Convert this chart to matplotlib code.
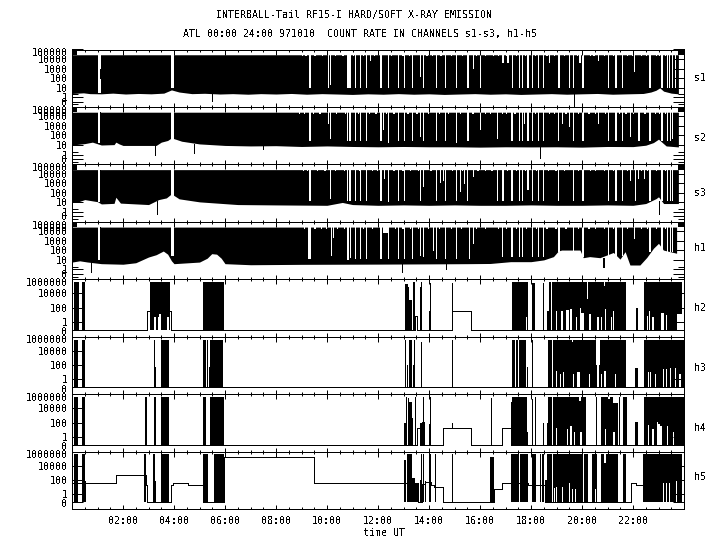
import numpy as np
import matplotlib
matplotlib.use("Agg")
import matplotlib.pyplot as plt
from matplotlib.transforms import ScaledTranslation

# ---------- text ----------
title_1 = "INTERBALL-Tail RF15-I HARD/SOFT X-RAY EMISSION"
title_2 = "ATL 00:00 24:00 971010  COUNT RATE IN CHANNELS s1-s3, h1-h5"
x_label = "time UT"
hour_ticks = [2, 4, 6, 8, 10, 12, 14, 16, 18, 20, 22]
hour_labels = ["02:00", "04:00", "06:00", "08:00", "10:00", "12:00", "14:00", "16:00", "18:00", "20:00", "22:00"]
s_ticks = [0, 1, 10, 100, 1000, 10000, 100000]
s_labels = ["0", "1", "10", "100", "1000", "10000", "100000"]
h_ticks = [0, 1, 100, 10000, 1000000]
h_labels = ["0", "1", "100", "10000", "1000000"]

# ---------- continuous channels: lower envelope of the black band ----------
s1_env_t = [0, .45, .7, 1.15, 1.6, 2.1, 2.6, 3.1, 3.6, 3.9, 4.2, 4.7, 5.2, 5.8, 6.3, 6.9, 7.4, 8, 8.6, 9.2, 9.8, 10.4, 11, 11.6, 12.2, 12.8, 13.4, 14, 14.6, 15.2, 15.8, 16.4, 17, 17.6, 18.2, 18.8, 19.4, 20, 20.6, 21.2, 21.8, 22.4, 22.7, 22.9, 23.05, 23.2, 23.5, 23.78]
s1_env_v = [2.4, 2.8, 2.3, 2.2, 2.6, 2.1, 2.4, 2.2, 2.6, 5.7, 3.4, 2.3, 2.5, 2.1, 2.3, 2.0, 2.3, 2.1, 2.4, 2.0, 2.3, 2.1, 1.9, 2.2, 2.0, 2.3, 2.0, 2.2, 1.9, 2.1, 2.3, 2.0, 2.2, 1.9, 2.1, 2.3, 2.0, 2.2, 2.4, 2.0, 2.2, 2.4, 3.4, 5.2, 9.3, 4.2, 2.6, 2.2]
s2_env_t = [0, .5, .8, 1.15, 1.65, 1.72, 1.85, 2, 3.3, 3.5, 3.75, 3.9, 4.1, 4.3, 5, 6, 7, 8, 9, 10, 11, 12, 13, 14, 15, 16, 17, 18, 19, 20, 21, 22, 22.5, 22.8, 23, 23.15, 23.3, 23.78]
s2_env_v = [10, 14, 20, 10, 11, 20, 13, 9, 9, 20, 30, 56, 38, 25, 13, 9, 8, 8.5, 7, 8, 7, 6.5, 7, 6.5, 6.5, 6, 6.5, 6.3, 6.5, 6, 7, 6.8, 9.5, 18, 41, 18, 8, 6.3]
s3_env_t = [0, .2, .5, 1, 1.15, 1.65, 1.72, 1.9, 3, 3.4, 3.7, 3.9, 4.2, 5, 6.5, 8, 10, 10.6, 11, 12, 13, 14, 15, 16, 17, 18, 19, 20, 21, 22, 22.5, 22.9, 23, 23.2, 23.78]
s3_env_v = [10.5, 10.5, 20, 12, 7, 8, 35, 8.5, 6, 20, 30, 80, 24, 11.5, 6, 5.5, 5, 10, 6, 5, 5.5, 5, 5.5, 5, 5, 5.5, 5, 5, 5.5, 5, 7.7, 25, 39, 7.7, 7.7]
h1_env_t = [0, .3, .6, 1.15, 2, 2.5, 3, 3.3, 3.58, 3.75, 3.9, 4, 5, 5.3, 5.48, 5.67, 5.85, 6, 7, 9, 12, 14, 15.5, 16.4, 17.2, 18, 18.5, 18.88, 19.07, 19.2, 19.92, 20.05, 20.3, 20.7, 21.23, 21.49, 21.69, 21.88, 22.27, 22.54, 22.8, 23, 23.19, 23.71]
h1_env_v = [5.9, 8, 6, 4, 3.5, 5, 20, 35, 85, 40, 8, 4, 5.9, 15, 45, 40, 15, 4, 3.1, 3.4, 3.6, 3.8, 4, 4.2, 6.5, 6.5, 10, 22, 85, 108, 108, 17, 22, 17, 60, 12, 73, 2.9, 2.9, 18, 165, 550, 108, 50]

# white stripes cut from the band: start hour, end hour, value they reach down to
s1_gap_start = [1.03, 3.90, 9.30, 10.05, 10.12, 10.80, 10.88, 11.10, 11.28, 11.52, 11.69, 12.08, 12.38, 12.78, 13.02, 13.33, 13.65, 13.75, 14.27, 14.61, 15.06, 15.48, 15.71, 16.00, 16.88, 17.07, 17.24, 17.53, 17.66, 17.86, 18.04, 18.28, 18.46, 18.71, 19.07, 19.50, 19.66, 19.90, 20.00, 20.63, 21.02, 21.31, 21.56, 22.04, 22.64, 23.11, 23.32, 23.42, 23.54, 23.66]
s1_gap_end = [1.14, 3.99, 9.39, 10.09, 10.16, 10.85, 10.93, 11.15, 11.35, 11.57, 11.73, 12.16, 12.42, 12.82, 13.07, 13.37, 13.69, 13.80, 14.31, 14.65, 15.11, 15.56, 15.75, 16.04, 16.90, 17.12, 17.29, 17.58, 17.70, 17.90, 18.09, 18.31, 18.51, 18.75, 19.12, 19.54, 19.70, 19.93, 20.08, 20.67, 21.07, 21.36, 21.60, 22.08, 22.72, 23.16, 23.36, 23.46, 23.58, 23.70]
s1_gap_floor = [2.5, 8, 9.3, 9.3, 17, 9.3, 9.3, 9.3, 9.3, 9.3, 6000, 9.3, 9.3, 9.3, 9.3, 9.3, 135, 9.3, 9.3, 9.3, 9.3, 9.3, 1000, 9.3, 3400, 3400, 9.3, 9.3, 9.3, 9.3, 9.3, 9.3, 9.3, 3400, 9.3, 9.3, 9.3, 3400, 9.3, 6000, 9.3, 9.3, 9.3, 450, 9.3, 9.3, 9.3, 9.3, 9.3, 9.3]

s2_gap_start = [1.03, 3.90, 9.30, 10.05, 10.13, 10.78, 10.88, 11.10, 11.28, 11.53, 12.08, 12.20, 12.39, 12.78, 13.02, 13.33, 13.66, 13.77, 14.27, 14.61, 15.06, 15.48, 16.00, 16.65, 17.20, 17.53, 17.66, 17.74, 17.86, 18.04, 18.28, 18.46, 19.07, 19.20, 19.50, 19.66, 20.00, 20.63, 21.02, 21.31, 21.56, 21.87, 22.21, 22.64, 23.11, 23.32, 23.45, 23.54]
s2_gap_end = [1.14, 3.99, 9.37, 10.09, 10.16, 10.82, 10.93, 11.15, 11.33, 11.57, 12.16, 12.24, 12.43, 12.82, 13.06, 13.37, 13.69, 13.80, 14.31, 14.65, 15.11, 15.56, 16.04, 16.68, 17.29, 17.58, 17.70, 17.78, 17.90, 18.08, 18.31, 18.50, 19.11, 19.24, 19.54, 19.70, 20.08, 20.67, 21.07, 21.36, 21.60, 21.91, 22.26, 22.72, 23.16, 23.36, 23.49, 23.58]
s2_gap_floor = [15, 30, 25, 1770, 40, 25, 25, 25, 25, 25, 25, 350, 17, 25, 25, 25, 70, 25, 25, 25, 17, 25, 350, 40, 25, 25, 25, 1770, 25, 25, 25, 25, 25, 1770, 800, 25, 25, 1770, 25, 25, 25, 70, 25, 25, 25, 25, 25, 40]

s3_gap_start = [1.03, 3.90, 9.30, 10.12, 10.80, 10.88, 11.10, 11.28, 11.52, 12.08, 12.22, 12.39, 12.78, 13.02, 13.66, 13.77, 14.27, 14.43, 14.54, 14.61, 15.06, 15.22, 15.37, 15.48, 15.71, 16.68, 16.88, 17.22, 17.53, 17.66, 17.86, 18.04, 18.28, 18.46, 19.07, 19.66, 20.00, 21.02, 21.31, 21.56, 21.88, 22.08, 22.21, 22.43, 22.64, 23.11, 23.32, 23.45, 23.54]
s3_gap_end = [1.14, 3.99, 9.37, 10.16, 10.83, 10.93, 11.15, 11.33, 11.57, 12.16, 12.27, 12.43, 12.82, 13.06, 13.69, 13.80, 14.31, 14.47, 14.58, 14.65, 15.11, 15.26, 15.40, 15.54, 15.75, 16.71, 16.90, 17.29, 17.57, 17.70, 17.90, 18.09, 18.31, 18.49, 19.11, 19.70, 20.08, 21.07, 21.36, 21.60, 21.92, 22.12, 22.25, 22.47, 22.72, 23.16, 23.36, 23.49, 23.58]
s3_gap_floor = [10, 30, 16, 25, 16, 16, 16, 16, 16, 16, 2600, 12, 16, 16, 16, 410, 16, 1200, 2000, 16, 16, 120, 930, 16, 4700, 16, 16, 16, 16, 16, 185, 16, 16, 16, 16, 16, 16, 16, 16, 16, 2000, 16, 3100, 3100, 16, 16, 16, 16, 16]

h1_gap_start = [1.03, 3.90, 9.26, 10.16, 10.25, 10.80, 10.90, 11.10, 11.28, 11.52, 12.08, 12.18, 12.39, 12.78, 13.02, 13.33, 13.66, 13.77, 14.16, 14.27, 14.61, 15.06, 15.56, 15.71, 16.86, 17.22, 17.53, 17.66, 18.04, 18.28, 18.46, 19.07, 19.66, 20.00, 21.02, 21.31, 21.56, 22.04, 22.64, 23.11, 23.32, 23.45, 23.54]
h1_gap_end = [1.14, 3.99, 9.36, 10.18, 10.27, 10.85, 10.94, 11.15, 11.33, 11.57, 12.14, 12.40, 12.43, 12.82, 13.06, 13.37, 13.69, 13.80, 14.20, 14.31, 14.65, 15.11, 15.61, 15.75, 16.90, 17.29, 17.58, 17.70, 18.09, 18.31, 18.51, 19.12, 19.70, 20.08, 21.07, 21.36, 21.60, 22.08, 22.72, 23.16, 23.36, 23.49, 23.58]
h1_gap_floor = [10, 25, 12, 28, 1900, 10, 15, 12, 12, 12, 12, 7000, 12, 12, 12, 12, 28, 18, 95, 12, 12, 12, 12, 490, 18, 18, 18, 18, 18, 18, 18, 65, 28, 18, 22, 28, 28, 1500, 65, 95, 65, 65, 65]

# small nicks in the top edge of the band (hours)
s1_nicks = [9.0, 9.15, 9.5, 9.8, 10.3, 10.6, 11.0, 11.4, 11.85, 12.5, 12.95, 13.2, 13.9, 14.1, 14.45, 14.85, 15.3, 15.85, 16.2, 16.5, 16.7, 17.0, 17.4, 17.75, 18.15, 18.6, 18.9, 19.3, 19.8, 20.3, 20.45, 20.85, 21.2, 21.75, 21.95, 22.3, 22.5, 22.9, 23.0, 23.25]
s2_nicks = [8.9, 9.1, 9.45, 9.7, 10.35, 10.7, 11.2, 11.65, 11.9, 12.3, 12.6, 13.15, 13.5, 13.95, 14.4, 14.75, 15.2, 15.7, 16.2, 16.4, 16.85, 17.0, 17.35, 18.15, 18.7, 18.9, 19.35, 19.85, 20.25, 20.5, 20.9, 21.45, 21.7, 22.0, 22.45, 22.85, 23.0, 23.25]
s3_nicks = [9.05, 9.2, 9.6, 9.9, 10.3, 10.65, 11.25, 11.75, 11.95, 12.6, 12.95, 13.25, 13.55, 14.05, 14.9, 15.3, 15.9, 16.2, 16.45, 17.05, 17.4, 17.75, 18.2, 18.65, 18.95, 19.3, 19.85, 20.3, 20.5, 20.85, 21.2, 21.75, 22.3, 22.55, 22.9, 23.25]
h1_nicks = [9.1, 9.5, 9.75, 9.95, 10.4, 10.65, 11.4, 11.75, 12.65, 12.95, 13.25, 13.55, 13.95, 14.4, 14.85, 15.25, 15.85, 16.2, 16.7, 17.0, 17.4, 17.8, 18.2, 18.6, 18.95, 19.35, 19.85, 20.25, 20.5, 20.85, 21.2, 21.75, 22.3, 22.55, 22.9, 23.25]

# isolated dips below the band: hour, value reached
s1_dip_t, s1_dip_v = [5.5, 19.7], [0.1, -1.2]
s2_dip_t, s2_dip_v = [3.27, 4.8, 7.5, 18.37], [0.8, 1.5, 3.5, 0.3]
s3_dip_t, s3_dip_v = [3.35, 23.03], [0.65, 0.65]
h1_dip_t, h1_dip_v = [0.76, 12.95, 14.68, 20.84, 20.87], [0.4, 0.4, 1.0, 1.6, 1.6]

# black line seen inside the gap near 01:05: hour, low value, high value
s_line_t = [1.08, 1.08, 1.08, 1.08]
s_line_lo = [100, 20, 10, 12]
s_line_hi = [1000, 28000, 28000, 28000]

BAND_TOP = 28000.0
NICK_FLOOR = 19000.0
MIN_WIDTH = 0.043  # hours, just over one pixel, so that no stripe vanishes

# ---------- sparse channels: black blocks (start, end, top value) ----------
h2_band_start = [.08, .39, 3.06, 5.14, 13.06, 13.18, 13.23, 13.37, 13.65, 13.67, 14.00, 14.04, 14.91, 17.27, 18.03, 18.48, 18.63, 18.69, 18.76, 18.84, 22.12, 22.43]
h2_band_end = [.27, .51, 3.84, 5.96, 13.18, 13.23, 13.32, 13.44, 13.71, 13.70, 14.07, 14.07, 14.93, 17.90, 18.16, 18.50, 18.72, 18.71, 18.80, 21.73, 22.18, 23.91]
h2_band_top = [4e5, 4e5, 4e5, 4e5, 2.5e5, 9e4, 1200, 4e5, 9e4, 4e5, 30, 3e5, 3e5, 4e5, 3e5, 3e5, 30, 4e5, 4e5, 4e5, 85, 4e5]
h2_hole_start = [3.23, 3.36, 3.42, 3.71, 3.86, 17.79, 18.98, 19.18, 19.37, 19.52, 19.76, 19.92, 19.96, 20.27, 20.59, 20.74, 20.90, 21.14, 21.23, 22.54, 22.61, 22.76, 23.10, 23.29, 23.73]
h2_hole_end = [3.28, 3.41, 3.48, 3.79, 3.90, 17.83, 19.02, 19.24, 19.49, 19.61, 19.80, 19.96, 20.08, 20.37, 20.68, 20.78, 20.94, 21.18, 21.27, 22.59, 22.65, 22.81, 23.20, 23.33, 23.91]
h2_hole_top = [5, 5, 15, 5, 29, 5, 29, 29, 49, 60, 4.2, 85, 17, 12, 4.2, 4.2, 60, 4.2, 35, 5.8, 29, 4.2, 17, 10, 12]
h2_notch_start = [20.20, 20.86]
h2_notch_end = [20.25, 20.90]
h2_notch_floor = [1500, 1e5]
h2_line_t = [0, 2.95, 3.90, 13.44, 13.54, 14.92, 15.66, 24]
h2_line_v = [0, 29, 0, 5.8, 0, 29, 0, 0]

h3_band_start = [.08, .39, 3.22, 3.24, 3.49, 5.14, 5.29, 5.37, 5.41, 13.06, 13.12, 13.23, 13.30, 13.36, 13.40, 13.70, 14.91, 17.27, 17.43, 17.54, 17.83, 18.05, 18.68, 18.65, 18.76, 18.85, 22.08, 22.43]
h3_band_end = [.22, .51, 3.24, 3.28, 3.80, 5.25, 5.32, 5.41, 5.92, 13.08, 13.18, 13.30, 13.33, 13.44, 13.42, 13.72, 14.93, 17.38, 17.50, 17.80, 17.88, 18.07, 18.74, 18.70, 18.82, 21.73, 22.18, 24.0]
h3_band_top = [4e5, 4e5, 4e5, 50, 4e5, 4e5, 4e5, 50, 4e5, 4e5, 107, 3e5, 3e5, 107, 3e5, 2e5, 3e5, 4e5, 4e5, 4e5, 60, 4e5, 3e5, 4e5, 4e5, 4e5, 38, 4e5]
h3_hole_start = [18.98, 19.14, 19.24, 19.65, 19.80, 20.27, 20.59, 20.74, 20.88, 21.29, 22.60, 22.68, 22.86, 23.16, 23.29, 23.45, 23.65, 23.80]
h3_hole_end = [19.02, 19.18, 19.28, 19.70, 19.92, 20.31, 20.67, 20.80, 20.93, 21.33, 22.64, 22.72, 22.90, 23.22, 23.33, 23.49, 23.69, 23.87]
h3_hole_top = [16, 5.2, 10, 5.2, 10, 5.2, 88, 5.2, 16, 5.2, 10, 10, 5.2, 30, 30, 38, 38, 5.2]
h3_notch_start = [20.55, 19.6]
h3_notch_end = [20.70, 19.63]
h3_notch_floor = [88, 2e5]
h3_line_t = [0, 24]
h3_line_v = [0, 0]

h4_band_start = [.08, .39, 2.88, 3.22, 3.49, 5.14, 5.41, 13.02, 13.11, 13.18, 13.22, 13.33, 13.44, 13.65, 13.71, 13.78, 13.99, 14.04, 16.44, 17.22, 17.27, 17.84, 18.03, 18.14, 18.48, 18.64, 18.67, 18.86, 20.54, 20.74, 21.45, 21.60, 22.08, 22.43]
h4_band_end = [.22, .51, 2.90, 3.29, 3.80, 5.25, 5.96, 13.08, 13.13, 13.22, 13.33, 13.36, 13.46, 13.71, 13.84, 13.80, 14.07, 14.07, 16.46, 17.27, 17.84, 17.90, 18.07, 18.16, 18.50, 18.74, 18.82, 20.14, 20.59, 21.40, 21.48, 21.75, 22.18, 24.0]
h4_band_top = [4e5, 4e5, 4e5, 4e5, 4e5, 4e5, 4e5, 82, 4e5, 3e5, 7e4, 500, 4e5, 82, 113, 4e5, 60, 4e5, 3e5, 7.4e4, 4e5, 4.4, 2e5, 4e5, 82, 82, 4e5, 4e5, 4e5, 4e5, 4e5, 4e5, 113, 4e5]
h4_hole_start = [18.98, 19.40, 19.52, 19.69, 19.92, 20.90, 21.23, 22.60, 22.76, 22.94, 22.99, 23.07, 23.32, 23.56]
h4_hole_end = [19.02, 19.46, 19.61, 19.73, 19.99, 20.94, 21.29, 22.64, 22.81, 22.99, 23.07, 23.15, 23.36, 23.61]
h4_hole_top = [16, 13, 31, 4.4, 4.4, 13, 4.4, 47, 13, 113, 72, 28, 28, 4.4]
h4_notch_start = [19.9, 21.0, 21.2]
h4_notch_end = [19.95, 21.1, 21.4]
h4_notch_floor = [1e5, 2e5, 5e4]
h4_line_t = [0, 13.54, 13.65, 14.56, 15.66, 16.88, 17.22, 24]
h4_line_v = [0, 16, 0, 20, 0, 20, 0, 0]
h4_spike_t, h4_spike_lo, h4_spike_hi = [14.92], [20], [82]

h5_band_start = [.08, .39, .51, 2.82, 3.19, 3.27, 3.50, 5.14, 5.57, 13.03, 13.12, 13.33, 13.45, 13.65, 13.69, 13.78, 13.84, 14.00, 14.23, 14.91, 16.39, 17.22, 17.36, 17.56, 18.03, 18.36, 18.45, 18.55, 18.61, 18.86, 20.08, 20.39, 20.73, 21.60, 22.40]
h5_band_end = [.22, .51, .55, 2.90, 3.27, 3.30, 3.80, 5.32, 5.96, 13.10, 13.33, 13.45, 13.57, 13.71, 13.71, 13.80, 13.87, 14.08, 14.25, 14.93, 16.54, 17.36, 17.52, 17.88, 18.20, 18.38, 18.50, 18.61, 18.81, 20.03, 20.25, 20.58, 21.41, 21.73, 23.93]
h5_band_top = [4e5, 4e5, 68, 4e5, 4e5, 68, 4e5, 4e5, 4e5, 7e4, 4e5, 180, 26, 107, 4e5, 4e5, 62, 4e5, 4e5, 4e5, 2e5, 4e5, 4e5, 4e5, 4e5, 4e5, 4e5, 107, 4e5, 4e5, 4e5, 4e5, 4e5, 4e5, 4e5]
h5_hole_start = [18.91, 18.98, 19.20, 19.49, 19.62, 19.73, 20.51, 23.19, 23.29, 23.41, 23.67]
h5_hole_end = [18.95, 19.02, 19.24, 19.53, 19.66, 19.75, 20.55, 23.23, 23.33, 23.44, 23.70]
h5_hole_top = [7, 9, 10, 35, 5.8, 5.8, 5.8, 35, 35, 35, 107]
h5_notch_start = [20.88]
h5_notch_end = [20.92]
h5_notch_floor = [2.3e4]
h5_line_t = [0, .55, 1.71, 2.82, 2.90, 2.95, 3.90, 3.97, 4.00, 4.56, 5.15, 5.96, 9.50, 13.03, 13.57, 13.71, 13.84, 14.08, 14.20, 14.56, 16.54, 16.88, 17.22, 17.88, 18.20, 18.55, 21.92, 22.12, 22.40]
h5_line_v = [32, 32, 590, 590, 18, 0, 23, 32, 32, 20, 0, 1.8e5, 32, 32, 0, 26, 49, 17, 12, 0, 5.8, 32, 32, 21, 17, 0, 32, 17, 17]

# ---------- figure ----------
plt.rcParams["font.family"] = ["DejaVu Sans Mono"]
plt.rcParams["font.size"] = 7.2
plt.rcParams["text.antialiased"] = False
plt.rcParams["lines.antialiased"] = False
plt.rcParams["patch.antialiased"] = False

W, H = 720, 550
PX = 72 / 100  # one pixel in points
fig = plt.figure(figsize=(W / 100, H / 100), dpi=100)
top_px, panel_px = 49.5, 57.44
names = ["s1", "s2", "s3", "h1", "h2", "h3", "h4", "h5"]
name_y = [78, 137.7, 193, 248, 307.7, 368, 428, 477]


def make_axes(i, kind):
    ax = fig.add_axes([72 / W, 1 - (top_px + panel_px * (i + 1)) / H, 612 / W, panel_px / H])
    ax.set_xlim(0, 24)
    if kind == "s":
        ax.set_yscale("symlog", linthresh=1, linscale=0.427)
        ax.set_ylim(-1.22, 100000)
        ax.set_yticks(s_ticks, s_labels)
        ax.set_yticks([-0.6, 2], [""] * 2, minor=True)
        shifts = {"100000": -3.0}
    else:
        ax.set_yscale("symlog", linthresh=1, linscale=0.99)
        ax.set_ylim(-0.9, 1000000)
        ax.set_yticks(h_ticks, h_labels)
        ax.set_yticks([], minor=True)
        shifts = {"1000000": -2.7, "0": -1.5}
    ax.set_xticks(hour_ticks, hour_labels if i == 7 else [""] * len(hour_ticks))
    ax.set_xticks(np.arange(0.5, 24, 0.5), minor=True)
    ax.tick_params(axis="x", which="major", direction="in", top=True, bottom=True, length=4.5 * PX, width=PX, pad=5)
    ax.tick_params(axis="x", which="minor", direction="in", top=True, bottom=True, length=2 * PX, width=PX, labelbottom=False)
    ax.tick_params(axis="y", which="major", direction="in", left=True, right=True, length=11 * PX, width=PX, pad=3)
    ax.tick_params(axis="y", which="minor", direction="in", left=True, right=True, length=6 * PX, width=PX, labelleft=False)
    ax.xaxis.set_tick_params(which="both", labelsize=7.2)
    ax.set_axisbelow(False)
    for sp in ax.spines.values():
        sp.set_linewidth(PX)
    for lab in ax.get_yticklabels():
        if lab.get_text() in shifts:
            lab.set_transform(lab.get_transform() + ScaledTranslation(0, shifts[lab.get_text()] * PX / 72, fig.dpi_scale_trans))
    ax.patch.set_facecolor("white")
    fig.text(694 / W, 1 - name_y[i] / H, names[i], ha="left", va="center")
    return ax


def bars(ax, start, end, low, high, color):
    start, end = np.asarray(start, float), np.asarray(end, float)
    low = np.broadcast_to(np.asarray(low, float), start.shape)
    high = np.broadcast_to(np.asarray(high, float), start.shape)
    ax.bar(start, high - low, width=np.maximum(end - start, MIN_WIDTH), bottom=low, align="edge", color=color, linewidth=0)


def continuous(i, env_t, env_v, g0, g1, gf, nicks, dip_t, dip_v, line):
    ax = make_axes(i, "s")
    ax.fill_between(env_t, env_v, BAND_TOP, color="black", linewidth=0)
    bars(ax, [0, 23.78], [0.2, 24], BAND_TOP, 100000, "black")
    bars(ax, g0, g1, gf, 100000, "white")
    nicks = np.asarray(nicks)
    bars(ax, nicks, nicks + 0.05, NICK_FLOOR, BAND_TOP, "white")
    ax.vlines(dip_t, dip_v, BAND_TOP / 2000, color="black", linewidth=PX)
    ax.vlines(line[0], line[1], line[2], color="black", linewidth=PX)


def sparse(i, b0, b1, bt, h0, h1, ht, n0, n1, nf, lt, lv):
    ax = make_axes(i, "h")
    bars(ax, b0, b1, 0, bt, "black")
    if len(h0):
        bars(ax, h0, h1, 0, ht, "white")
    bars(ax, n0, n1, nf, 1e6, "white")
    ax.step(lt, lv, where="post", color="black", linewidth=PX)
    return ax


continuous(0, s1_env_t, s1_env_v, s1_gap_start, s1_gap_end, s1_gap_floor, s1_nicks, s1_dip_t, s1_dip_v, (s_line_t[0], s_line_lo[0], s_line_hi[0]))
continuous(1, s2_env_t, s2_env_v, s2_gap_start, s2_gap_end, s2_gap_floor, s2_nicks, s2_dip_t, s2_dip_v, (s_line_t[1], s_line_lo[1], s_line_hi[1]))
continuous(2, s3_env_t, s3_env_v, s3_gap_start, s3_gap_end, s3_gap_floor, s3_nicks, s3_dip_t, s3_dip_v, (s_line_t[2], s_line_lo[2], s_line_hi[2]))
continuous(3, h1_env_t, h1_env_v, h1_gap_start, h1_gap_end, h1_gap_floor, h1_nicks, h1_dip_t, h1_dip_v, (s_line_t[3], s_line_lo[3], s_line_hi[3]))
sparse(4, h2_band_start, h2_band_end, h2_band_top, h2_hole_start, h2_hole_end, h2_hole_top, h2_notch_start, h2_notch_end, h2_notch_floor, h2_line_t, h2_line_v)
sparse(5, h3_band_start, h3_band_end, h3_band_top, h3_hole_start, h3_hole_end, h3_hole_top, h3_notch_start, h3_notch_end, h3_notch_floor, h3_line_t, h3_line_v)
ax4 = sparse(6, h4_band_start, h4_band_end, h4_band_top, h4_hole_start, h4_hole_end, h4_hole_top, h4_notch_start, h4_notch_end, h4_notch_floor, h4_line_t, h4_line_v)
ax4.vlines(h4_spike_t, h4_spike_lo, h4_spike_hi, color="black", linewidth=PX)
sparse(7, h5_band_start, h5_band_end, h5_band_top, h5_hole_start, h5_hole_end, h5_hole_top, h5_notch_start, h5_notch_end, h5_notch_floor, h5_line_t, h5_line_v)

fig.text(353.5 / W, 1 - 15 / H, title_1, ha="center", va="center")
fig.text(360 / W, 1 - 34 / H, title_2, ha="center", va="center")
fig.text(384 / W, 1 - 533.5 / H, x_label, ha="center", va="center")

fig.savefig("out.png", dpi=100)
